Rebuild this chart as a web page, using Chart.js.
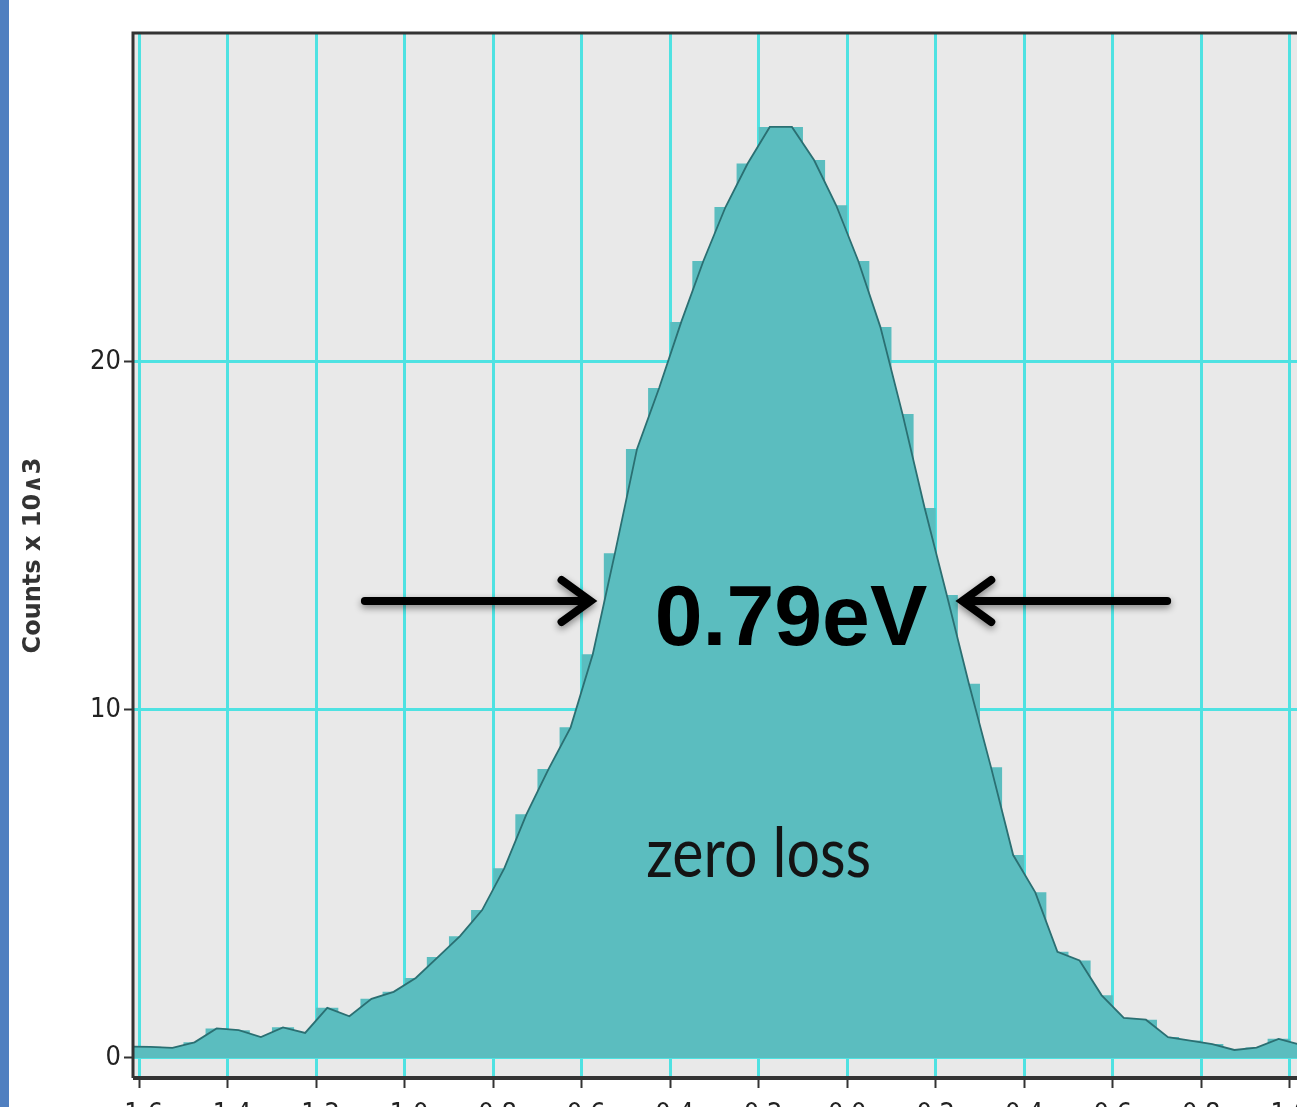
<!DOCTYPE html>
<html>
<head>
<meta charset="utf-8">
<script src="https://cdn.jsdelivr.net/npm/chart.js@4.4.0/dist/chart.umd.min.js"></script>
<style>
  html, body { margin: 0; padding: 0; overflow: hidden; background: #fff; width: 1297px; height: 1107px; }
  #bar { position: absolute; left: 0; top: 0; width: 9px; height: 1107px; background: #4f7fc0; }
  #wrap { position: absolute; left: 0; top: 0; width: 1330px; height: 1135px; }
</style>
</head>
<body>
<div id="bar"></div>
<div id="wrap"><canvas id="zlp"></canvas></div>
<script>
    // ----------- DATA -----------
    // centre des canaux (eV), pas de 0.05 eV
    const energies = [-1.625, -1.575, -1.525, -1.475, -1.425, -1.375, -1.325, -1.275, -1.225, -1.175,
                      -1.125, -1.075, -1.025, -0.975, -0.925, -0.875, -0.825, -0.775, -0.725, -0.675,
                      -0.625, -0.575, -0.525, -0.475, -0.425, -0.375, -0.325, -0.275, -0.225, -0.175,
                      -0.125, -0.075, -0.025, 0.025, 0.075, 0.125, 0.175, 0.225, 0.275, 0.325,
                      0.375, 0.425, 0.475, 0.525, 0.575, 0.625, 0.675, 0.725, 0.775, 0.825,
                      0.875, 0.925, 0.975, 1.025, 1.075];
    // coups x 10^3
    const counts = [0.33, 0.32, 0.29, 0.45, 0.85, 0.80, 0.60, 0.88, 0.72, 1.44,
                    1.20, 1.70, 1.90, 2.30, 2.90, 3.50, 4.25, 5.45, 7.00, 8.30,
                    9.50, 11.6, 14.5, 17.5, 19.25, 21.15, 22.9, 24.45, 25.7, 26.75,
                    26.75, 25.8, 24.5, 22.9, 21.0, 18.5, 15.8, 13.3, 10.75, 8.35,
                    5.83, 4.76, 3.05, 2.80, 1.80, 1.15, 1.10, 0.60, 0.50, 0.40,
                    0.23, 0.30, 0.55, 0.38, 0.35];

    const xTicks = [-1.6, -1.4, -1.2, -1.0, -0.8, -0.6, -0.4, -0.2, 0.0, 0.2, 0.4, 0.6, 0.8, 1.0];
    const yTicks = [0, 10, 20];
    const xRange = [-1.614, 1.091];
    const yRange = [-0.575, 29.45];

    const yTitle = 'Counts x 10\u22273';
    const fwhmLabel = '0.79eV';
    const peakLabel = 'zero loss';

    const teal = '#5bbdbf';
    const narrow = '"Liberation Sans Narrow", "DejaVu Sans Condensed", sans-serif';

    const points = energies.map((e, i) => ({x: e, y: counts[i]}));

    // ----------- PLUGINS -----------
    const plotFrame = {
        id: 'plotFrame',
        beforeDraw(chart) {
            const {ctx, chartArea: a} = chart;
            ctx.save();
            ctx.fillStyle = '#e9e9e9';
            ctx.fillRect(a.left, a.top, a.right - a.left, a.bottom - a.top);
            ctx.restore();
        },
        afterDraw(chart) {
            const {ctx, chartArea: a} = chart;
            ctx.save();
            ctx.strokeStyle = '#333';
            ctx.lineWidth = 3;
            ctx.beginPath();
            ctx.moveTo(a.right, a.top);
            ctx.lineTo(a.left, a.top);
            ctx.lineTo(a.left, a.bottom);
            ctx.stroke();
            ctx.lineWidth = 4;
            ctx.beginPath();
            ctx.moveTo(a.left, a.bottom);
            ctx.lineTo(a.right, a.bottom);
            ctx.stroke();
            ctx.restore();
        }
    };

    function arrow(ctx, x0, y0, x1, y1) {
        const dir = Math.sign(x1 - x0);
        ctx.beginPath();
        ctx.moveTo(x0, y0);
        ctx.lineTo(x1 - dir * 3, y1);
        ctx.moveTo(x1 - dir * 29, y1 - 21);
        ctx.lineTo(x1, y1);
        ctx.lineTo(x1 - dir * 29, y1 + 21);
        ctx.stroke();
    }

    const labels = {
        id: 'labels',
        afterDatasetsDraw(chart) {
            const ctx = chart.ctx, sx = chart.scales.x, sy = chart.scales.y;
            ctx.save();
            ctx.strokeStyle = '#000';
            ctx.lineWidth = 8;
            ctx.lineCap = 'round';
            ctx.lineJoin = 'miter';
            ctx.shadowColor = 'rgba(0,0,0,0.45)';
            ctx.shadowBlur = 7;
            ctx.shadowOffsetY = 3;
            const ay = sy.getPixelForValue(13.13);
            arrow(ctx, sx.getPixelForValue(-1.09), ay, sx.getPixelForValue(-0.58), ay);
            arrow(ctx, sx.getPixelForValue(0.723), ay, sx.getPixelForValue(0.26), ay);
            ctx.restore();

            ctx.save();
            ctx.fillStyle = '#000';
            ctx.textAlign = 'center';
            ctx.textBaseline = 'alphabetic';
            ctx.font = 'bold 86px "Liberation Sans", Arial, sans-serif';
            ctx.fillText(fwhmLabel, sx.getPixelForValue(-0.127), sy.getPixelForValue(11.87));
            ctx.fillStyle = '#141414';
            ctx.font = '70px Lato, "Open Sans", sans-serif';
            ctx.fillText(peakLabel, sx.getPixelForValue(-0.2), sy.getPixelForValue(5.2), 225);
            ctx.restore();
        }
    };

    // ----------- CONFIG -----------
    const config = {
        type: 'line',
        data: {
            datasets: [
                {
                    label: 'profil',
                    data: points,
                    order: 1,
                    borderColor: '#2b6f72',
                    borderWidth: 1.8,
                    backgroundColor: teal,
                    fill: 'origin',
                    pointRadius: 0,
                    tension: 0
                },
                {
                    label: 'canaux',
                    data: points,
                    order: 2,
                    stepped: 'middle',
                    borderWidth: 0,
                    borderColor: teal,
                    backgroundColor: teal,
                    fill: 'origin',
                    pointRadius: 0
                }
            ]
        },
        options: {
            responsive: true,
            maintainAspectRatio: false,
            animation: false,
            layout: { padding: { top: 33, left: 0, right: 0, bottom: 0 } },
            plugins: {
                legend: { display: false },
                tooltip: { enabled: false }
            },
            scales: {
                x: {
                    type: 'linear',
                    min: xRange[0],
                    max: xRange[1],
                    afterBuildTicks: (s) => { s.ticks = xTicks.map(v => ({value: v})); },
                    afterFit: (s) => { s.height = 57; },
                    ticks: {
                        color: '#222',
                        font: { family: narrow, size: 27 },
                        padding: 11,
                        maxRotation: 0,
                        autoSkip: false,
                        callback: (v) => v.toFixed(1)
                    },
                    grid: { color: '#4fe2e2', lineWidth: 3, tickColor: '#333', tickLength: 10, tickWidth: 2 },
                    border: { display: false }
                },
                y: {
                    min: yRange[0],
                    max: yRange[1],
                    afterBuildTicks: (s) => { s.ticks = yTicks.map(v => ({value: v})); },
                    afterFit: (s) => { s.width = 133; },
                    ticks: {
                        color: '#222',
                        font: { family: narrow, size: 27 },
                        padding: 3
                    },
                    grid: { color: '#4fe2e2', lineWidth: 3, tickColor: '#333', tickLength: 9, tickWidth: 2 },
                    border: { display: false },
                    title: {
                        display: true,
                        text: yTitle,
                        color: '#333',
                        font: { family: 'DejaVu Sans', size: 24, weight: 'bold' },
                        padding: { top: 19, bottom: 0 }
                    }
                }
            }
        },
        plugins: [plotFrame, labels]
    };

    // ----------- RENDU -----------
    const zlpChart = new Chart(document.getElementById('zlp').getContext('2d'), config);
</script>
</body>
</html>
